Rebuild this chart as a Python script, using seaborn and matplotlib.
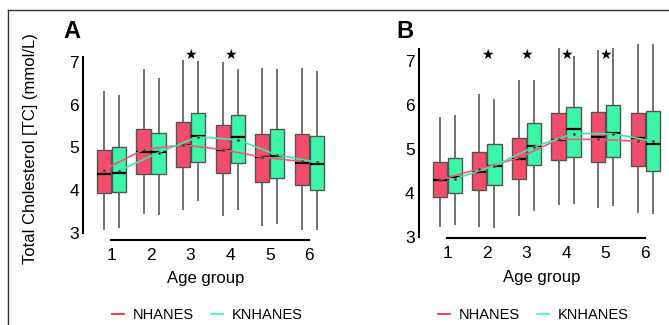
import numpy as np
import pandas as pd
import matplotlib
matplotlib.use("Agg")
import matplotlib.pyplot as plt
import matplotlib.transforms as mtransforms
import seaborn as sns
from matplotlib.lines import Line2D

# dados (mmol/L) - grupos etários 1..6
groups = [1, 2, 3, 4, 5, 6]
cohorts = ["NHANES", "KNHANES"]

# Painel A
a_nh_lo = [3.05, 3.44, 3.52, 3.38, 3.15, 3.05]
a_nh_q1 = [3.93, 4.38, 4.54, 4.40, 4.18, 4.12]
a_nh_med = [4.37, 4.89, 5.05, 4.95, 4.77, 4.64]
a_nh_q3 = [4.93, 5.44, 5.60, 5.52, 5.32, 5.32]
a_nh_hi = [6.33, 6.84, 7.05, 7.00, 6.87, 6.87]
a_nh_mean = [4.48, 4.95, 5.06, 4.95, 4.77, 4.67]

a_kn_lo = [3.10, 3.42, 3.74, 3.52, 3.19, 3.05]
a_kn_q1 = [3.95, 4.37, 4.65, 4.63, 4.28, 4.00]
a_kn_med = [4.40, 4.89, 5.26, 5.24, 4.80, 4.60]
a_kn_q3 = [5.01, 5.35, 5.82, 5.77, 5.44, 5.28]
a_kn_hi = [6.24, 6.64, 7.03, 6.85, 6.85, 6.79]
a_kn_mean = [4.45, 4.88, 5.25, 5.18, 4.82, 4.65]

a_stars = [3, 4]

# Painel B
b_nh_lo = [3.23, 3.23, 3.47, 3.73, 3.67, 3.54]
b_nh_q1 = [3.92, 4.06, 4.33, 4.75, 4.71, 4.62]
b_nh_med = [4.29, 4.48, 4.78, 5.21, 5.28, 5.25]
b_nh_q3 = [4.71, 4.94, 5.24, 5.82, 5.84, 5.82]
b_nh_hi = [5.72, 6.25, 6.58, 7.29, 7.26, 7.39]
b_nh_mean = [4.30, 4.55, 4.80, 5.22, 5.22, 5.18]

b_kn_lo = [3.27, 3.21, 3.59, 3.74, 3.71, 3.53]
b_kn_q1 = [4.00, 4.18, 4.63, 4.83, 4.81, 4.51]
b_kn_med = [4.36, 4.61, 5.07, 5.46, 5.36, 5.11]
b_kn_q3 = [4.79, 5.11, 5.60, 5.95, 6.00, 5.86]
b_kn_hi = [5.78, 6.13, 6.57, 7.12, 7.30, 7.39]
b_kn_mean = [4.32, 4.62, 5.05, 5.35, 5.35, 5.18]

b_stars = [2, 3, 4, 5]

box_colors = {"NHANES": "#F24D6B", "KNHANES": "#3DF5A8"}
line_colors = {"NHANES": "#F0587A", "KNHANES": "#45E6A5"}
legend_colors = {"NHANES": "#FF2A2A", "KNHANES": "#3FFFAA"}

plt.rcParams["font.family"] = ["Liberation Sans", "DejaVu Sans"]

W, H = 669, 325


def montar_df(stats):
    # cada caixa: 5 pontos [min, q1, mediana, q3, max] -> quartis exatos
    rows = []
    for coorte, (lo, q1, med, q3, hi) in stats.items():
        for i, g in enumerate(groups):
            for v in (lo[i], q1[i], med[i], q3[i], hi[i]):
                rows.append({"Age": str(g), "Cohort": coorte, "TC": v})
    return pd.DataFrame(rows)


def painel(ax, stats, means, stars, ylim, ybounds, letra, letra_px):
    df = montar_df(stats)
    sns.boxplot(
        data=df, x="Age", y="TC", hue="Cohort", hue_order=cohorts,
        order=[str(g) for g in groups], palette=box_colors, saturation=1,
        whis=np.inf, width=0.76, gap=0.05, showcaps=False,
        linewidth=1.0, linecolor="#555555",
        medianprops={"color": "black", "linewidth": 1.6},
        whiskerprops={"color": "#5a5a5a", "linewidth": 1.2},
        legend=False, ax=ax,
    )
    for artist in ax.get_children():
        artist.set_clip_on(False)
    x = np.arange(len(groups))
    for off, coorte in zip([-0.19, 0.19], cohorts):
        ax.plot(x + off, means[coorte], color=line_colors[coorte], lw=1.2, zorder=5)
        ax.plot(x + off, means[coorte], ls="none", marker=".", ms=2,
                color="#444444", zorder=6)
    # estrelas: x em dados, y em pixels da figura
    trans = mtransforms.blended_transform_factory(ax.transData, fig.transFigure)
    for s in stars:
        ax.text(s - 1, 1 - 55 / H, "★", ha="center", va="center",
                fontsize=10, family="DejaVu Sans", clip_on=False,
                transform=trans)
    ax.set_xlim(-0.72, 5.5)
    ax.set_ylim(*ylim)
    ax.set_yticks([3, 4, 5, 6, 7])
    sns.despine(ax=ax)
    ax.spines["left"].set_bounds(*ybounds)
    ax.spines["bottom"].set_bounds(0, 5)
    for sp in ("left", "bottom"):
        ax.spines[sp].set_linewidth(1.5)
    ax.tick_params(axis="both", length=0, labelsize=12.5)
    ax.tick_params(axis="y", pad=3)
    ax.tick_params(axis="x", pad=6)
    ax.set_xlabel("Age group", fontsize=12, labelpad=6)
    ax.set_ylabel("")
    fig.text(letra_px / W, 1 - 38 / H, letra, fontsize=17,
             fontweight="bold", ha="center", va="baseline")


fig = plt.figure(figsize=(W / 100, H / 100), dpi=100)
ax_a = fig.add_axes([0.124, 0.263, 0.368, 0.562])
ax_b = fig.add_axes([0.626, 0.268, 0.368, 0.582])

painel(
    ax_a,
    {"NHANES": (a_nh_lo, a_nh_q1, a_nh_med, a_nh_q3, a_nh_hi),
     "KNHANES": (a_kn_lo, a_kn_q1, a_kn_med, a_kn_q3, a_kn_hi)},
    {"NHANES": a_nh_mean, "KNHANES": a_kn_mean},
    a_stars, (2.835, 7.13), (3, 7.13), "A", 72,
)
ax_a.set_ylabel("Total Cholesterol [TC] (mmol/L)", fontsize=12, labelpad=22)

painel(
    ax_b,
    {"NHANES": (b_nh_lo, b_nh_q1, b_nh_med, b_nh_q3, b_nh_hi),
     "KNHANES": (b_kn_lo, b_kn_q1, b_kn_med, b_kn_q3, b_kn_hi)},
    {"NHANES": b_nh_mean, "KNHANES": b_kn_mean},
    b_stars, (2.98, 7.28), (3, 7.28), "B", 405,
)

# legendas abaixo de cada painel
handles = [Line2D([], [], color=legend_colors[c], lw=1.3) for c in cohorts]
for cx in (207 / W, 533 / W):
    fig.legend(handles, cohorts, loc="center", bbox_to_anchor=(cx, 1 - 315 / H),
               ncol=2, frameon=False, fontsize=10.5, handlelength=0.8,
               handletextpad=0.6, columnspacing=1.2)

# moldura cortada (topo e esquerda)
fig.add_artist(Line2D([8 / W, 1], [1 - 10 / H, 1 - 10 / H], color="#333333", lw=1))
fig.add_artist(Line2D([8 / W, 8 / W], [0, 1 - 10 / H], color="#333333", lw=1))

fig.savefig("out.png", dpi=100)
